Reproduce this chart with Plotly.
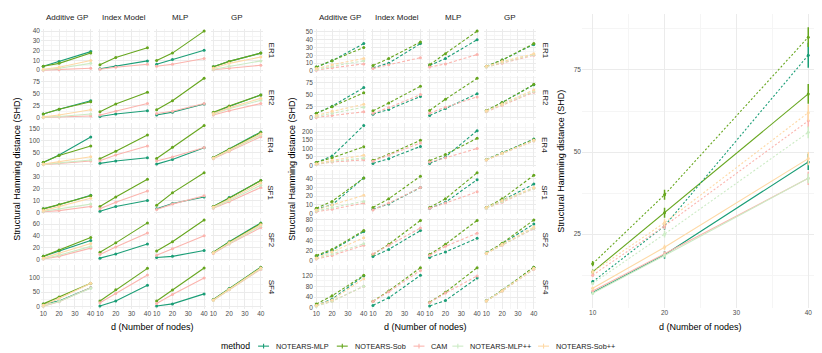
import plotly.graph_objects as go

nodes = [10, 20, 40]
graphs = ["ER1", "ER2", "ER4", "SF1", "SF2", "SF4"]
models = ["Additive GP", "Index Model", "MLP", "GP"]
methods = ["NOTEARS-MLP", "NOTEARS-Sob", "CAM", "NOTEARS-MLP++", "NOTEARS-Sob++"]
colors = ["#1B9E77", "#66A61E", "#FBB4AE", "#CCEBC5", "#FED9A6"]

# ---------- left grid (solid lines): per graph -> per model -> SHD at d=10,20,40
solid_notears_mlp = {
    "ER1": [[4, 9, 19], [1.5, 4, 9.5], [6, 11, 20.5], [3.5, 9, 17.5]],
    "ER2": [[7, 17, 35], [2, 7, 14], [5, 11, 28], [9, 23, 47]],
    "ER4": [[10, 40, 114], [6, 16, 29], [3, 22, 70], [30, 64, 135]],
    "SF1": [[3, 6.5, 14.5], [1, 5, 10], [3, 7.5, 13], [5, 12.5, 27]],
    "SF2": [[5, 14, 32], [2, 9, 26], [3, 5, 15], [12, 30, 62]],
    "SF4": [[10, 20, 65], [3, 20, 73], [3, 10, 44], [25, 62, 135]],
}
solid_notears_sob = {
    "ER1": [[4, 7, 17.5], [5.5, 13, 23], [10, 17.5, 40], [3.5, 9, 17.5]],
    "ER2": [[7, 17, 33], [12, 28, 53], [16, 35, 82], [11, 24, 47]],
    "ER4": [[11, 38, 77], [25, 56, 122], [26, 72, 161], [30, 64, 132]],
    "SF1": [[3, 6.5, 14], [5, 13, 28], [6, 16.5, 33.5], [5, 12, 27]],
    "SF2": [[5, 16, 37], [12, 28, 62], [14, 30, 67], [12, 29, 61]],
    "SF4": [[10, 33, 80], [20, 58, 131], [20, 57, 132], [24, 61, 134]],
}
solid_cam = {
    "ER1": [[0, 0.5, 2], [1, 3, 6], [4, 6, 12], [0.5, 2, 5]],
    "ER2": [[0, 1, 3], [5, 13, 29], [8, 13, 29], [5, 14, 29]],
    "ER4": [[1, 6, 16], [17, 40, 77], [16, 32, 71], [25, 55, 115]],
    "SF1": [[0.5, 1.5, 5], [3, 8.5, 18], [2.5, 7, 14], [3.5, 9, 21]],
    "SF2": [[0.5, 5, 19], [8, 21, 45], [7, 18, 40], [10, 26, 54]],
    "SF4": [[2, 17, 65], [14, 45, 108], [11, 42, 98], [22, 58, 128]],
}
solid_notears_mlp_pp = {
    "ER1": [[0.5, 2, 7], None, None, [1, 4, 9.5]],
    "ER2": [[0.5, 2, 7], None, None, [7, 18, 36]],
    "ER4": [[2, 8, 20], None, None, [27, 58, 122]],
    "SF1": [[1, 3, 7], None, None, [4, 10, 23]],
    "SF2": [[1, 7, 22], None, None, [11, 27, 57]],
    "SF4": [[3, 18, 63], None, None, [22, 59, 130]],
}
solid_notears_sob_pp = {
    "ER1": [[1, 3, 10], None, None, [2, 7, 13.5]],
    "ER2": [[1, 5, 16], None, None, [8, 20, 40]],
    "ER4": [[3, 13, 33], None, None, [28, 60, 126]],
    "SF1": [[1.5, 5, 12], None, None, [4.5, 11, 25]],
    "SF2": [[2, 10, 27], None, None, [11, 28, 59]],
    "SF4": [[5, 28, 80], None, None, [23, 60, 132]],
}

# ---------- middle grid (dashed lines)
dashed_notears_mlp = {
    "ER1": [[5, 13, 35], [4, 10, 35], [7, 16, 40], [6, 14, 34]],
    "ER2": [[10, 25, 65], [8, 18, 46], [5, 20, 52], [15, 33, 71]],
    "ER4": [[18, 55, 235], [12, 40, 112], [12, 50, 205], [35, 75, 155]],
    "SF1": [[5, 10, 41], [5, 11, 30], [6, 13, 39], [7, 15, 34]],
    "SF2": [[8, 20, 57], [8, 22, 59], [6, 17, 44], [15, 33, 72]],
    "SF4": [[10, 33, 118], [10, 38, 120], [8, 28, 110], [27, 65, 150]],
}
dashed_notears_sob = {
    "ER1": [[5, 13, 30], [7, 16, 37], [8, 22, 51], [6, 14, 35]],
    "ER2": [[10, 24, 54], [15, 32, 68], [16, 40, 85], [16, 33, 72]],
    "ER4": [[18, 45, 110], [30, 65, 148], [28, 65, 160], [34, 73, 152]],
    "SF1": [[6, 14, 41], [7, 17, 43], [7, 17, 47], [7, 17, 44]],
    "SF2": [[10, 22, 59], [12, 32, 79], [12, 32, 79], [15, 34, 80]],
    "SF4": [[15, 45, 120], [25, 63, 148], [22, 58, 148], [27, 65, 150]],
}
dashed_cam = {
    "ER1": [[1, 4, 9], [3, 8, 17], [5, 9, 21], [5, 10, 20]],
    "ER2": [[1, 5, 13], [10, 22, 50], [10, 23, 45], [13, 27, 55]],
    "ER4": [[5, 20, 33], [25, 60, 132], [20, 45, 100], [32, 70, 144]],
    "SF1": [[2, 5, 12], [4, 12, 30], [6, 12, 25], [6, 13, 29]],
    "SF2": [[3, 10, 30], [13, 30, 64], [10, 28, 54], [14, 30, 63]],
    "SF4": [[8, 25, 80], [24, 60, 138], [20, 55, 118], [26, 62, 142]],
}
dashed_notears_mlp_pp = {
    "ER1": [[2, 6, 13], None, None, [5, 11, 21]],
    "ER2": [[3, 10, 23], None, None, [14, 29, 57]],
    "ER4": [[7, 25, 43], None, None, [33, 71, 146]],
    "SF1": [[3, 7, 14], None, None, [6, 14, 29]],
    "SF2": [[4, 13, 33], None, None, [14, 31, 64]],
    "SF4": [[7, 25, 80], None, None, [26, 63, 144]],
}
dashed_notears_sob_pp = {
    "ER1": [[3, 8, 16], None, None, [6, 12, 22]],
    "ER2": [[5, 14, 29], None, None, [15, 30, 60]],
    "ER4": [[10, 30, 60], None, None, [33, 72, 148]],
    "SF1": [[4, 10, 21], None, None, [7, 15, 30]],
    "SF2": [[5, 17, 45], None, None, [14, 32, 66]],
    "SF4": [[10, 30, 108], None, None, [26, 64, 146]],
}

# ---------- right panel: overall averages (solid and dotted), with error half-widths
right_solid = {
    "NOTEARS-MLP": [7.2, 18.7, 47], "NOTEARS-Sob": [13.5, 31.5, 67.7], "CAM": [7.7, 19, 42],
    "NOTEARS-MLP++": [7, 18.5, 42], "NOTEARS-Sob++": [8.5, 21, 48],
}
right_solid_err = {
    "NOTEARS-MLP": [0.5, 1.2, 2.5], "NOTEARS-Sob": [0.7, 1.5, 3], "CAM": [0.4, 0.8, 2],
    "NOTEARS-MLP++": [0.3, 0.6, 1.5], "NOTEARS-Sob++": [0.5, 0.8, 2],
}
right_dotted = {
    "NOTEARS-MLP": [10.5, 27.5, 79.5], "NOTEARS-Sob": [16, 37, 85], "CAM": [12.5, 27.5, 59.5],
    "NOTEARS-MLP++": [10, 25, 56], "NOTEARS-Sob++": [13.5, 28.5, 62],
}
right_dotted_err = {
    "NOTEARS-MLP": [0.5, 1.2, 3.8], "NOTEARS-Sob": [0.8, 1.5, 3], "CAM": [0.5, 1, 2],
    "NOTEARS-MLP++": [0.4, 1, 1.8], "NOTEARS-Sob++": [0.5, 1, 2.5],
}

left_sets = [solid_notears_mlp, solid_notears_sob, solid_cam, solid_notears_mlp_pp, solid_notears_sob_pp]
mid_sets = [dashed_notears_mlp, dashed_notears_sob, dashed_cam, dashed_notears_mlp_pp, dashed_notears_sob_pp]
left_dticks = [10, 25, 50, 10, 20, 50]
mid_dticks = [10, 25, 50, 10, 20, 40]

W, H = 822, 353
FONT = "Liberation Sans, Arial, sans-serif"
GRID = "#EBEBEB"
MINOR = "#F5F5F5"
TICKC = "#4D4D4D"
TITLEC = "#1A1A1A"


def px(x):
    return x / W


def py(y):
    return 1 - y / H


def note(text, x, y, size, angle=0, color=TITLEC, xanchor="center"):
    return dict(text=text, x=px(x), y=py(y), xref="paper", yref="paper", xanchor=xanchor,
                yanchor="middle", textangle=angle, showarrow=False,
                font=dict(size=size, color=color, family=FONT))


fig = go.Figure()
layout = {}
annotations = []
shapes = []

colw, colg = 52.4, 4.5
rowh, rowg = 44.25, 3.5
row_top = 20
xr = [8.5, 41.5]


def axis_common():
    return dict(showline=False, zeroline=False, ticks="", showgrid=True,
                gridcolor=GRID, gridwidth=1,
                tickfont=dict(size=6.5, color=TICKC, family=FONT))


ax = 0
for gi, (sets, left0, dash, dticks) in enumerate([
        (left_sets, 32, "solid", left_dticks),
        (mid_sets, 306, "3px,2px", mid_dticks)]):
    for r, g in enumerate(graphs):
        vals = [v for s in sets for p in s[g] if p for v in p]
        lo, hi = min(vals), max(vals)
        span = hi - lo
        yr = [lo - 0.06 * span, hi + 0.06 * span]
        y0 = row_top + r * (rowh + rowg)
        y1 = y0 + rowh
        for c, m in enumerate(models):
            ax += 1
            x0 = left0 + c * (colw + colg)
            x1 = x0 + colw
            xa = axis_common()
            xa.update(domain=[px(x0), px(x1)], range=xr, anchor=f"y{ax}",
                      tickvals=[10, 20, 30, 40], showticklabels=(r == len(graphs) - 1),
                      minor=dict(tickvals=[15, 25, 35], showgrid=True, gridcolor=MINOR, gridwidth=0.6))
            ya = axis_common()
            dt = dticks[r]
            ya.update(domain=[py(y1), py(y0)], range=yr, anchor=f"x{ax}",
                      tick0=0, dtick=dt, showticklabels=(c == 0),
                      minor=dict(tick0=dt / 2, dtick=dt, showgrid=True, gridcolor=MINOR, gridwidth=0.6))
            layout[f"xaxis{ax}"] = xa
            layout[f"yaxis{ax}"] = ya
            for k, s in enumerate(sets):
                p = s[g][c]
                if p is None:
                    continue
                fig.add_trace(go.Scatter(
                    x=nodes, y=p, mode="lines+markers", name=methods[k],
                    legendgroup=methods[k], showlegend=False,
                    line=dict(color=colors[k], width=1.1, dash=dash),
                    marker=dict(color=colors[k], size=3),
                    xaxis=f"x{ax}", yaxis=f"y{ax}", hoverinfo="skip"))
            if r == 0:
                annotations.append(note(m, (x0 + x1) / 2, 9, 8))
        sx = 263 if gi == 0 else 538
        annotations.append(note(g, sx, (y0 + y1) / 2, 8, angle=90))
    cx = left0 + (4 * colw + 3 * colg) / 2
    annotations.append(note("d (Number of nodes)", cx, 322, 9, color="#000000"))
    ytx = 8 if gi == 0 else 284
    annotations.append(note("Structural Hamming distance (SHD)", ytx, 161.5, 9, angle=-90, color="#000000"))

# right panel
ax += 1
rvals = []
for mth in methods:
    for d, e in ((right_solid, right_solid_err), (right_dotted, right_dotted_err)):
        rvals += [a - b for a, b in zip(d[mth], e[mth])] + [a + b for a, b in zip(d[mth], e[mth])]
lo, hi = min(rvals), max(rvals)
span = hi - lo
xa = axis_common()
xa.update(domain=[px(575), px(813)], range=xr, anchor=f"y{ax}", tickvals=[10, 20, 30, 40],
          minor=dict(tickvals=[15, 25, 35], showgrid=True, gridcolor=MINOR, gridwidth=0.6))
ya = axis_common()
ya.update(domain=[py(302), py(5)], range=[lo - 0.05 * span, hi + 0.05 * span], anchor=f"x{ax}",
          tickvals=[25, 50, 75],
          minor=dict(tickvals=[12.5, 37.5, 62.5, 87.5], showgrid=True, gridcolor=MINOR, gridwidth=0.6))
layout[f"xaxis{ax}"] = xa
layout[f"yaxis{ax}"] = ya
for d, e, dash in ((right_solid, right_solid_err, "solid"), (right_dotted, right_dotted_err, "2px,2px")):
    for k, mth in enumerate(methods):
        fig.add_trace(go.Scatter(
            x=nodes, y=d[mth], mode="lines+markers", name=mth, legendgroup=mth, showlegend=False,
            line=dict(color=colors[k], width=1.1, dash=dash),
            marker=dict(color=colors[k], size=3),
            error_y=dict(type="data", array=e[mth], visible=True, color=colors[k], thickness=1.5, width=0),
            xaxis=f"x{ax}", yaxis=f"y{ax}", hoverinfo="skip"))
annotations.append(note("d (Number of nodes)", 694, 322, 9, color="#000000"))
annotations.append(note("Structural Hamming distance (SHD)", 554, 153.5, 9, angle=-90, color="#000000"))

# legend (drawn as keys + labels, ggplot style)
leg_y = 341
annotations.append(note("method", 244, leg_y, 8.7, color="#000000", xanchor="right"))
key_x = [250, 329, 406, 445, 531]
for k, mth in enumerate(methods):
    kx = key_x[k]
    shapes.append(dict(type="line", xref="paper", yref="paper", x0=px(kx), x1=px(kx + 11),
                       y0=py(leg_y), y1=py(leg_y), line=dict(color=colors[k], width=1.1)))
    shapes.append(dict(type="line", xref="paper", yref="paper", x0=px(kx + 5.5), x1=px(kx + 5.5),
                       y0=py(leg_y - 2.5), y1=py(leg_y + 2.5), line=dict(color=colors[k], width=1.1)))
    annotations.append(note(mth, kx + 16, leg_y, 7.3, color=TITLEC, xanchor="left"))

fig.update_layout(
    width=W, height=H, autosize=False,
    margin=dict(l=0, r=0, t=0, b=0),
    paper_bgcolor="white", plot_bgcolor="white",
    font=dict(family=FONT, size=8, color=TITLEC),
    annotations=annotations,
    shapes=shapes,
    showlegend=False,
    **layout,
)

fig.write_html("out.html")
